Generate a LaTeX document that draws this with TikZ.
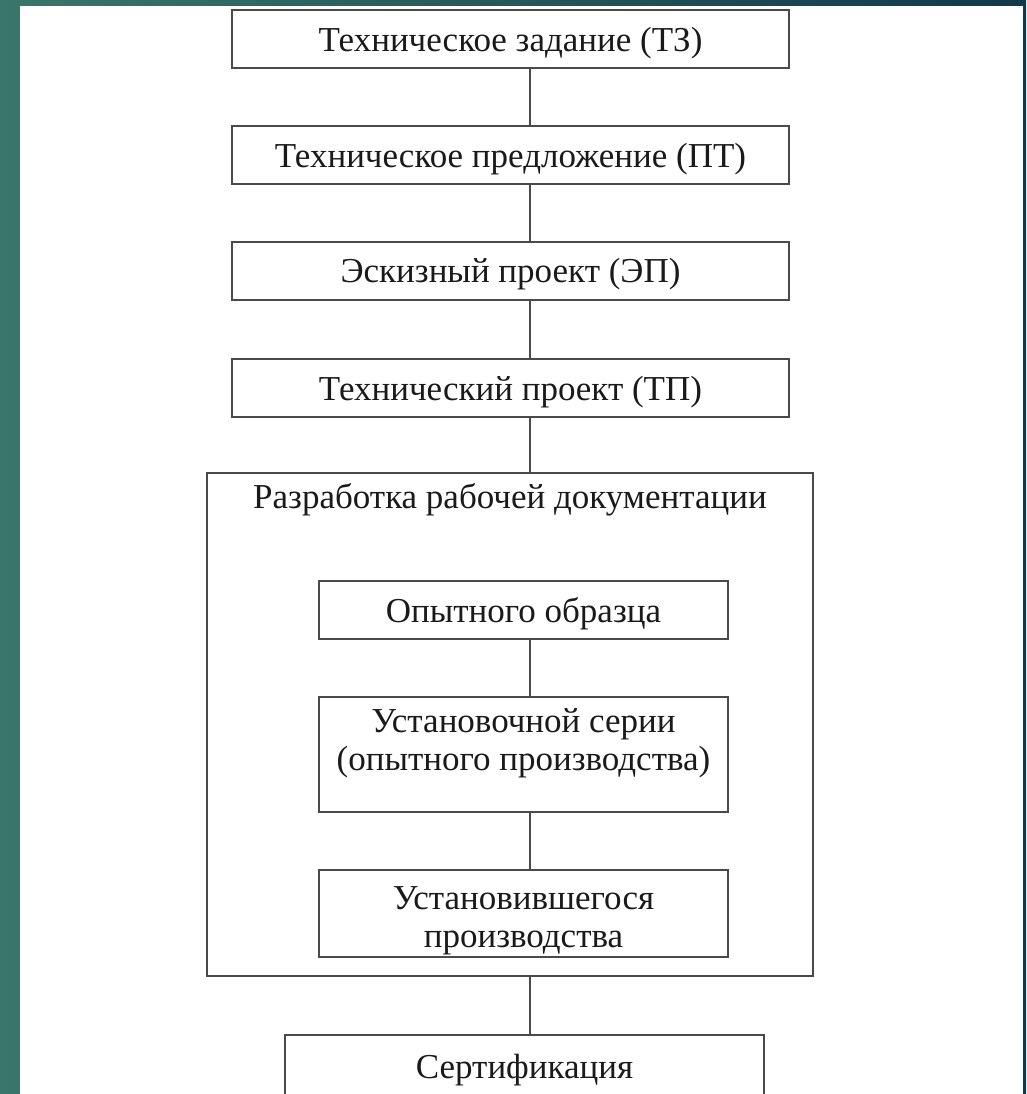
\documentclass[tikz,border=0pt]{standalone}
\usepackage{fontspec}
\setmainfont{Liberation Serif}
\usepackage{tikz}
\usetikzlibrary{positioning}
\definecolor{tealbg}{HTML}{3A766A}
\definecolor{tealdark}{HTML}{12384A}
\definecolor{framegray}{HTML}{4A4A4A}
\definecolor{inkblack}{HTML}{1A1A1A}
\tikzstyle{stage} = [draw=framegray, line width=2pt, minimum width=557pt, minimum height=58pt, inner sep=0pt, text depth=0pt, align=center, text=inkblack]
\tikzstyle{substage} = [stage, minimum width=409pt]
\tikzstyle{caption} = [inner sep=0pt, align=center, text=inkblack]
\tikzstyle{link} = [draw=framegray, line width=2pt]

\begin{document}
\begin{tikzpicture}[x=1pt, y=-1pt, font=\fontsize{35}{38}\selectfont]

        \useasboundingbox (0,0) rectangle (1026,1094);

        % Slide background and the white sheet on it
        \shade[left color=tealbg, right color=tealdark] (0,0) rectangle (1026,1094);
        \fill[white] (20,6) rectangle (1023,1094);

        % Vertical line on which all the connectors run
        \coordinate (axis) at (530,0);

        % Stages before the working documentation
        \node[stage] (tz) at (510.5,39.5) {Техническое задание (ТЗ)};
        \node[stage] (pt) at (510.5,155) {Техническое предложение (ПТ)};
        \node[stage] (ep) at (510.5,270.5) {Эскизный проект (ЭП)};
        \node[stage] (tp) at (510.5,388) {Технический проект (ТП)};

        % Frame of the working documentation with its title
        \node[stage, minimum width=606pt, minimum height=503pt] (rwd) at (510,724.5) {};
        \node[caption, below=11pt of rwd.north] (rwdtitle) {Разработка рабочей документации};

        % Documentation sub-stages inside the frame
        \node[substage] (op) at (523.5,609.5) {Опытного образца};
        \node[substage, minimum height=115pt] (us) at (523.5,754.5) {};
        \node[caption, below=12pt of us.north] (ustitle) {Установочной серии\\(опытного производства)};
        \node[substage, minimum height=87pt] (ust) at (523.5,913.5) {};
        \node[caption, below=17pt of ust.north] (usttitle) {Установившегося\\производства};

        % Certification box, cut by the lower edge of the sheet
        \node[caption, text depth=0pt, minimum width=479pt, minimum height=62pt] (sert) at (524.5,1066) {Сертификация};
        \draw[link] (sert.south west) -- (sert.north west) -- (sert.north east) -- (sert.south east);

        % Connectors between the stages
        \draw[link] (tz.south -| axis) -- (pt.north -| axis);       % ТЗ -> ПТ
        \draw[link] (pt.south -| axis) -- (ep.north -| axis);       % ПТ -> ЭП
        \draw[link] (ep.south -| axis) -- (tp.north -| axis);       % ЭП -> ТП
        \draw[link] (tp.south -| axis) -- (rwd.north -| axis);      % ТП -> documentation
        \draw[link] (op.south -| axis) -- (us.north -| axis);       % prototype -> pilot series
        \draw[link] (us.south -| axis) -- (ust.north -| axis);      % pilot series -> steady production
        \draw[link] (rwd.south -| axis) -- (sert.north -| axis);    % documentation -> certification

\end{tikzpicture}
\end{document}
